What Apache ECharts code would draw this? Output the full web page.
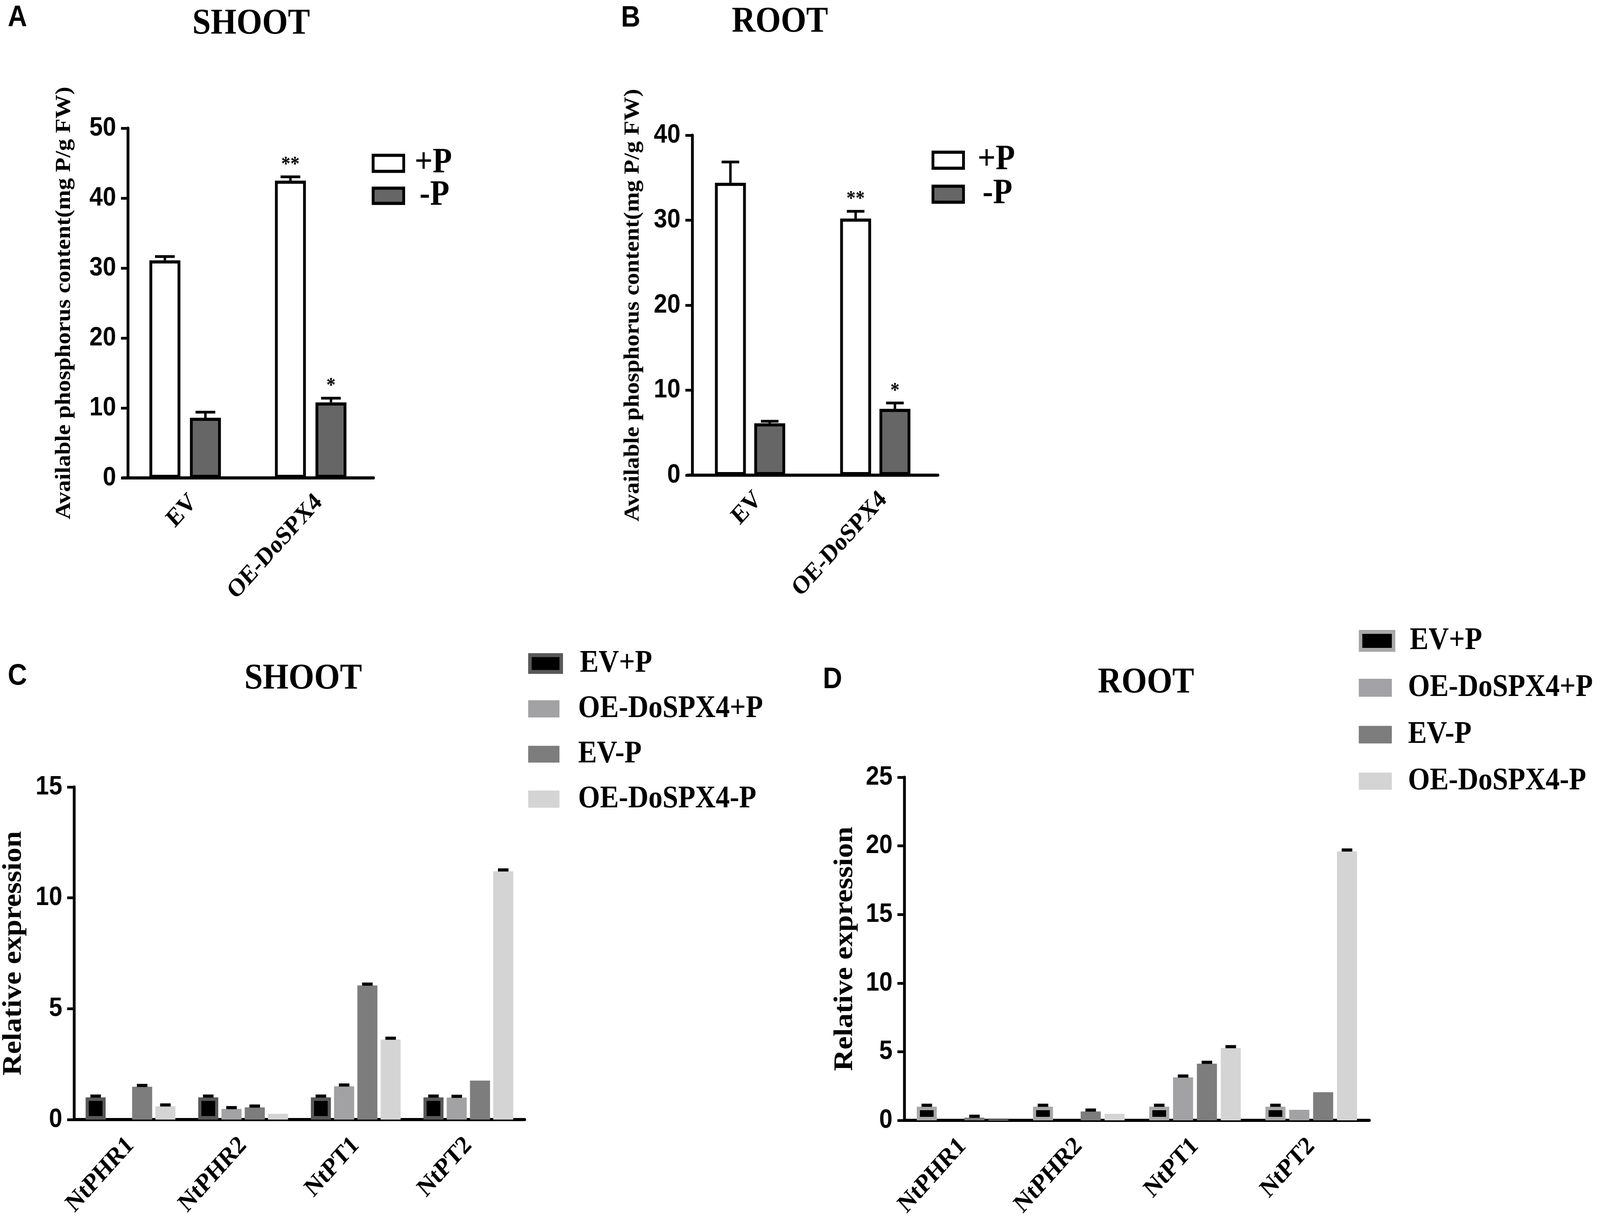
<!DOCTYPE html>
<html><head><meta charset="utf-8">
<script src="https://cdn.jsdelivr.net/npm/echarts@6/dist/echarts.min.js"></script>
<style>html,body{margin:0;padding:0;background:#fff;overflow:hidden}
#c{width:4550px;height:3122px;transform-origin:0 0;position:absolute;left:0;top:0}</style>
</head><body><div id="c"></div>
<script>
// ---------- DATA ----------
const groupsAB = ['EV', 'OE-DoSPX4'];
// Panel A (shoot, available P)
const shootPlus = [31.1, 42.5];
const shootPlusErr = [0.55, 0.55];
const shootPlusSig = ['', '**'];
const shootMinus = [8.6, 10.8];
const shootMinusErr = [0.8, 0.6];
const shootMinusSig = ['', '*'];
// Panel B (root, available P)
const rootPlus = [34.4, 30.2];
const rootPlusErr = [2.45, 0.85];
const rootPlusSig = ['', '**'];
const rootMinus = [6.1, 7.8];
const rootMinusErr = [0.25, 0.7];
const rootMinusSig = ['', '*'];

const genes = ['NtPHR1', 'NtPHR2', 'NtPT1', 'NtPT2'];
// Panel C (shoot, relative expression)
const shootEVplus = [1.0, 1.0, 1.0, 1.0];
const shootEVplusErr = [0.06, 0.06, 0.06, 0.06];
const shootOEplus = [0, 0.48, 1.5, 0.99];
const shootOEplusErr = [null, 0.06, 0.06, 0.06];
const shootEVminus = [1.48, 0.55, 6.05, 1.76];
const shootEVminusErr = [0.06, 0.06, 0.06, null];
const shootOEminus = [0.6, 0.26, 3.61, 11.2];
const shootOEminusErr = [0.06, null, 0.06, 0.06];
// Panel D (root, relative expression)
const rootEVplus = [1.0, 1.0, 1.0, 1.0];
const rootEVplusErr = [0.1, 0.1, 0.1, 0.1];
const rootOEplus = [0, 0, 3.13, 0.77];
const rootOEplusErr = [null, null, 0.1, null];
const rootEVminus = [0.2, 0.65, 4.13, 2.05];
const rootEVminusErr = [0.1, 0.1, 0.1, null];
const rootOEminus = [0.05, 0.48, 5.27, 19.6];
const rootOEminusErr = [null, null, 0.1, 0.1];

const yTicksA = {max: 50, interval: 10};
const yTicksB = {max: 40, interval: 10};
const yTicksC = {max: 15, interval: 5};
const yTicksD = {max: 25, interval: 5};

// ---------- STYLE / LAYOUT ----------
const SERIF = 'Liberation Serif', SANS = 'Liberation Sans';
const plusStyle = {color: '#ffffff', borderColor: '#000', borderWidth: 8};
const minusStyle = {color: '#666666', borderColor: '#000', borderWidth: 8};
const evPlusC = {color: '#000000', borderColor: '#585858', borderWidth: 9};
const evPlusD = {color: '#000000', borderColor: '#a8a8a8', borderWidth: 9};
const oePlusStyle = {color: '#a2a2a5'};
const evMinusStyle = {color: '#7d7d7d'};
const oeMinusStyle = {color: '#d4d4d4'};

const panels = [
  {grid: {left: 348, top: 328, width: 714, height: 895}, yOff: -16, ticks: yTicksA, cats: groupsAB,
   yName: 'Available phosphorus content(mg P/g FW)', nameSize: 61, nameGap: 150, catSize: 65, catMargin: 30, catVA: 'top',
   barWidth: 88, barGap: 0.31, capW: 56, capLine: 7, vLine: true, sigSize: 52,
   series: [
     {name: '+P', data: shootPlus, err: shootPlusErr, sig: shootPlusSig, style: plusStyle},
     {name: '-P', data: shootMinus, err: shootMinusErr, sig: shootMinusSig, style: minusStyle}]},
  {grid: {left: 1955, top: 346, width: 712, height: 870}, yOff: -14, ticks: yTicksB, cats: groupsAB,
   yName: 'Available phosphorus content(mg P/g FW)', nameSize: 61, nameGap: 138, catSize: 65, catMargin: 30, catVA: 'top',
   barWidth: 88, barGap: 0.27, capW: 50, capLine: 7, vLine: true, sigSize: 52,
   series: [
     {name: '+P', data: rootPlus, err: rootPlusErr, sig: rootPlusSig, style: plusStyle},
     {name: '-P', data: rootMinus, err: rootMinusErr, sig: rootMinusSig, style: minusStyle}]},
  {grid: {left: 210, top: 2014, width: 1282, height: 851}, yOff: 0, ticks: yTicksC, cats: genes,
   yName: 'Relative expression', nameSize: 76, nameGap: 134, catSize: 66, catMargin: 56, catVA: 'middle',
   barWidth: 57, barGap: 0.16, capW: 30, capLine: 8, vLine: false, sigSize: 40,
   series: [
     {name: 'EV+P', data: shootEVplus, err: shootEVplusErr, style: evPlusC},
     {name: 'OE-DoSPX4+P', data: shootOEplus, err: shootOEplusErr, style: oePlusStyle},
     {name: 'EV-P', data: shootEVminus, err: shootEVminusErr, style: evMinusStyle},
     {name: 'OE-DoSPX4-P', data: shootOEminus, err: shootOEminusErr, style: oeMinusStyle}]},
  {grid: {left: 2572, top: 1989, width: 1322, height: 878}, yOff: 0, ticks: yTicksD, cats: genes,
   yName: 'Relative expression', nameSize: 76, nameGap: 131, catSize: 66, catMargin: 56, catVA: 'middle',
   barWidth: 57, barGap: 0.19, capW: 30, capLine: 8, vLine: false, sigSize: 40,
   series: [
     {name: 'EV+P ', data: rootEVplus, err: rootEVplusErr, style: evPlusD},
     {name: 'OE-DoSPX4+P ', data: rootOEplus, err: rootOEplusErr, style: oePlusStyle},
     {name: 'EV-P ', data: rootEVminus, err: rootEVminusErr, style: evMinusStyle},
     {name: 'OE-DoSPX4-P ', data: rootOEminus, err: rootOEminusErr, style: oeMinusStyle}]}
];

const grids = [], xAxes = [], yAxes = [], series = [];
panels.forEach((cfg, p) => {
  grids.push(Object.assign({containLabel: false}, cfg.grid));
  xAxes.push({
    type: 'category', gridIndex: p, data: cfg.cats,
    axisLine: {lineStyle: {color: '#000', width: 8}},
    axisTick: {alignWithLabel: true, length: 24, lineStyle: {color: '#000', width: 7}},
    axisLabel: {rotate: 45, interval: 0, margin: cfg.catMargin, color: '#000', verticalAlign: cfg.catVA,
      fontFamily: SERIF, fontWeight: 'bold', fontSize: cfg.catSize},
    splitLine: {show: false}
  });
  yAxes.push({
    type: 'value', gridIndex: p, min: 0, max: cfg.ticks.max, interval: cfg.ticks.interval,
    offset: cfg.yOff,
    axisLine: {show: true, lineStyle: {color: '#000', width: 8}},
    axisTick: {show: true, length: 20, lineStyle: {color: '#000', width: 7}},
    axisLabel: {color: '#000', fontFamily: SANS, fontWeight: 'bold', fontSize: 68, margin: 34},
    splitLine: {show: false},
    name: cfg.yName, nameLocation: 'middle', nameGap: cfg.nameGap,
    nameTextStyle: {color: '#000', fontFamily: SERIF, fontWeight: 'bold', fontSize: cfg.nameSize, lineHeight: cfg.nameSize}
  });
  cfg.series.forEach((s) => {
    series.push({
      type: 'bar', name: s.name, xAxisIndex: p, yAxisIndex: p, data: s.data,
      barWidth: cfg.barWidth, barGap: (cfg.barGap * 100) + '%',
      itemStyle: s.style, emphasis: {disabled: true}, animation: false
    });
  });
  const items = [];
  cfg.series.forEach((s, si) => s.data.forEach((v, ci) => {
    if (s.err[ci] != null) items.push([ci, v, s.err[ci], si, (s.sig && s.sig[ci]) || '']);
  }));
  series.push({
    type: 'custom', xAxisIndex: p, yAxisIndex: p, z: 10, silent: true, animation: false,
    data: items.map(d => [d[0], d[1] + d[2], d[1], d[3]]),
    encode: {x: 0, y: 1},
    renderItem: function (params, api) {
      const d = items[params.dataIndex];
      const n = cfg.series.length, w = cfg.barWidth, step = w * (1 + cfg.barGap);
      const off = (d[3] - (n - 1) / 2) * step;
      const base = api.coord([d[0], d[1]]);
      const top = api.coord([d[0], d[1] + d[2]]);
      const x = base[0] + off;
      const st = {stroke: '#000', lineWidth: cfg.capLine};
      const ch = [];
      if (cfg.vLine) ch.push({type: 'line', shape: {x1: x, y1: base[1], x2: x, y2: top[1]}, style: st});
      ch.push({type: 'line', shape: {x1: x - cfg.capW / 2, y1: top[1], x2: x + cfg.capW / 2, y2: top[1]}, style: st});
      if (d[4]) ch.push({type: 'text', style: {text: d[4], x: x, y: top[1] - 4, align: 'center',
        verticalAlign: 'bottom', fontFamily: SERIF, fontWeight: 'bold', fontSize: cfg.sigSize, fill: '#000'}});
      return {type: 'group', children: ch};
    }
  });
});

// one legend per entry, so each row sits where the reference has it
function legendItem(name, left, centerY, w, h, fs, pad, itemStyle) {
  const rowH = Math.max(h, fs);
  return {orient: 'vertical', left: left, top: centerY - rowH / 2, itemWidth: w, itemHeight: h,
    icon: 'rect', selectedMode: false, padding: 0,
    data: [{name: name, itemStyle: itemStyle}],
    textStyle: {color: '#000', fontFamily: SERIF, fontWeight: 'bold', fontSize: fs, lineHeight: fs, padding: [0, 0, 0, pad]}};
}
const lgPlus = {color: '#fff', borderColor: '#000', borderWidth: 8};
const lgMinus = {color: '#666', borderColor: '#000', borderWidth: 8};
const legends = [
  legendItem('+P', 1057, 418, 87, 41, 90, 26, lgPlus),
  legendItem('-P', 1057, 501, 87, 39, 90, 40, lgMinus),
  legendItem('+P', 2649, 410, 87, 41, 90, 35, lgPlus),
  legendItem('-P', 2649, 497, 87, 41, 90, 49, lgMinus),
  legendItem('EV+P', 1502, 1698, 89, 43, 80, 48, {color: '#000', borderColor: '#585858', borderWidth: 10}),
  legendItem('OE-DoSPX4+P', 1502, 1814, 89, 44, 80, 48, {color: '#a2a2a5', borderWidth: 0}),
  legendItem('EV-P', 1502, 1930, 89, 43, 80, 48, {color: '#7d7d7d', borderWidth: 0}),
  legendItem('OE-DoSPX4-P', 1502, 2045, 89, 44, 80, 48, {color: '#d4d4d4', borderWidth: 0}),
  legendItem('EV+P ', 3864, 1640, 94, 46, 80, 41, {color: '#000', borderColor: '#a8a8a8', borderWidth: 10}),
  legendItem('OE-DoSPX4+P ', 3864, 1760, 94, 46, 80, 41, {color: '#a2a2a5', borderWidth: 0}),
  legendItem('EV-P ', 3864, 1880, 94, 45, 80, 41, {color: '#7d7d7d', borderWidth: 0}),
  legendItem('OE-DoSPX4-P ', 3864, 1999, 94, 44, 80, 41, {color: '#d4d4d4', borderWidth: 0})
];

const letterStyle = {color: '#000', fontFamily: SANS, fontWeight: 'bold', fontSize: 76, lineHeight: 76};
const headStyle = (fs) => ({color: '#000', fontFamily: SERIF, fontWeight: 'bold', fontSize: fs, lineHeight: fs});

const option = {
  backgroundColor: '#ffffff',
  animation: false,
  title: [
    {text: 'A', left: 22, top: 8, padding: 0, textStyle: letterStyle},
    {text: 'B', left: 1766, top: 9, padding: 0, textStyle: letterStyle},
    {text: 'C', left: 22, top: 1693, padding: 0, textStyle: letterStyle},
    {text: 'D', left: 2340, top: 1702, padding: 0, textStyle: letterStyle},
    {text: 'SHOOT', left: 547, top: 15, padding: 0, textStyle: headStyle(94)},
    {text: 'ROOT', left: 2081, top: 10, padding: 0, textStyle: headStyle(93)},
    {text: 'SHOOT', left: 695, top: 1691, padding: 0, textStyle: headStyle(94)},
    {text: 'ROOT', left: 3122, top: 1701, padding: 0, textStyle: headStyle(93)}
  ],
  legend: legends,
  grid: grids, xAxis: xAxes, yAxis: yAxes, series: series
};

const el = document.getElementById('c');
const sx = window.innerWidth / 4550, sy = window.innerHeight / 3122;
el.style.transform = 'scale(' + sx + ',' + sy + ')';
const chart = echarts.init(el, null, {renderer: 'canvas', width: 4550, height: 3122, devicePixelRatio: 1});
chart.setOption(option);
</script>
</body></html>
